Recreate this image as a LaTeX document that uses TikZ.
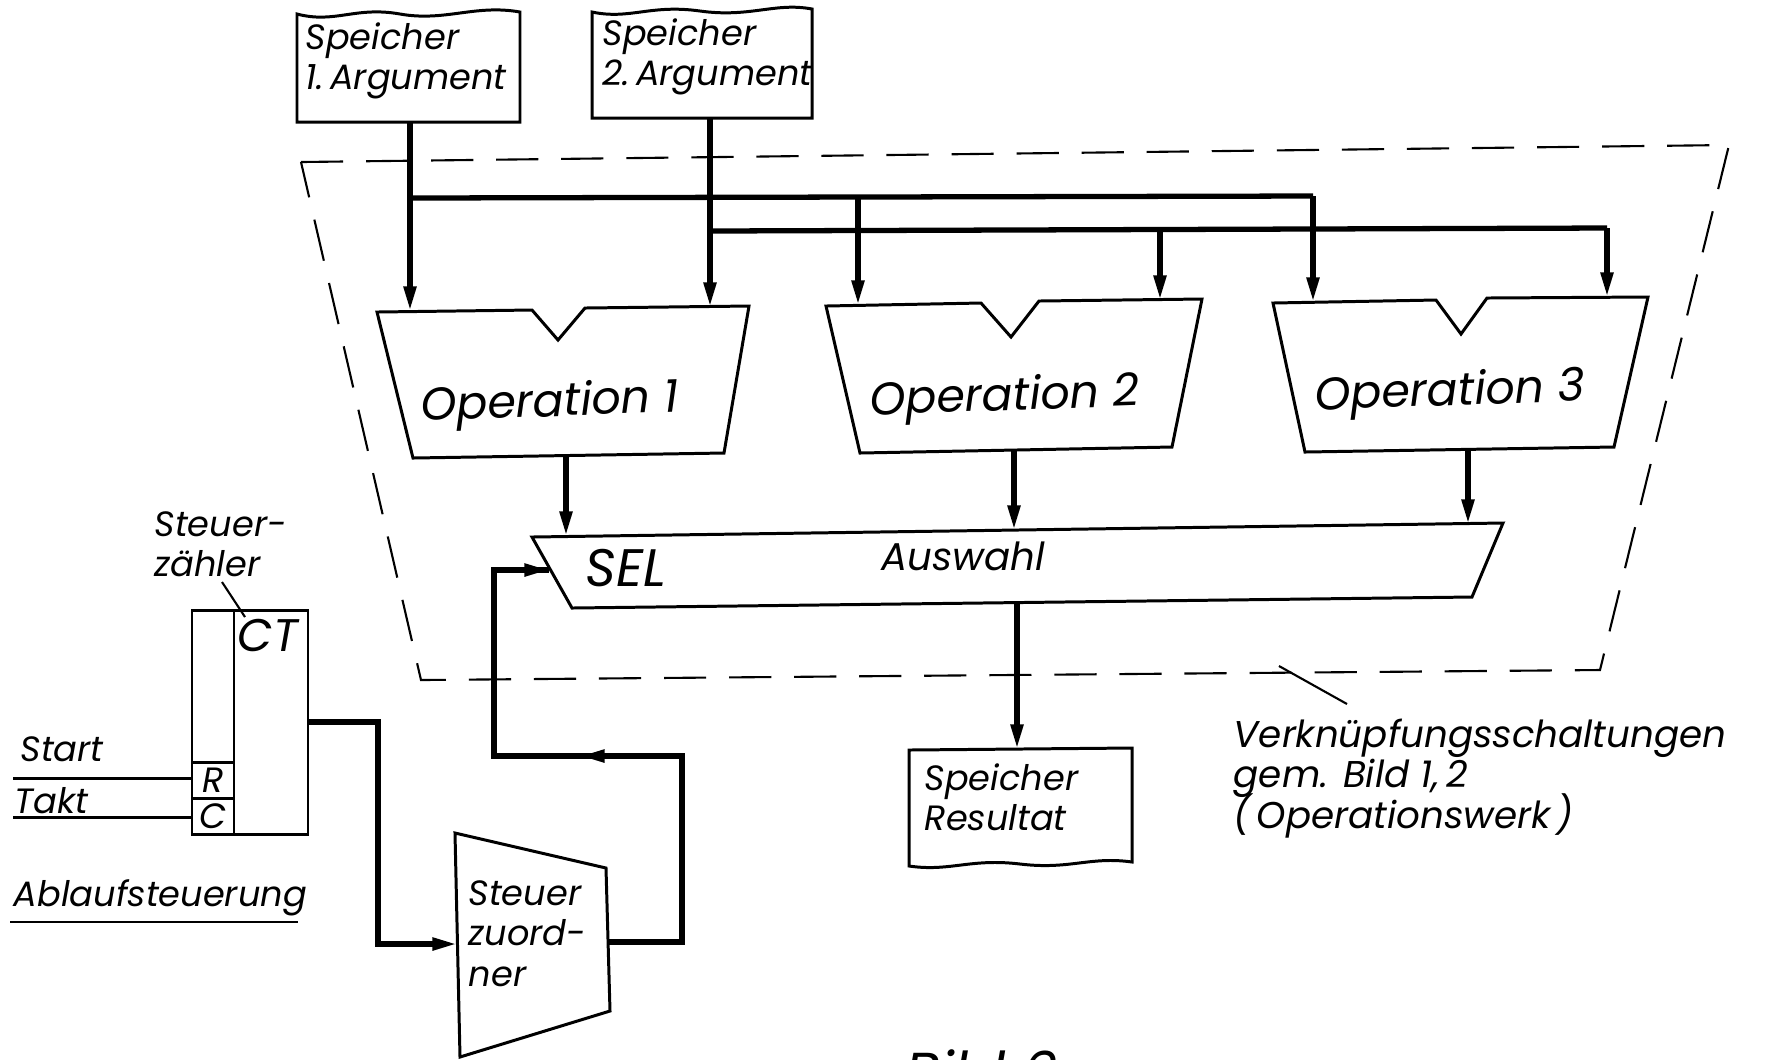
\documentclass[tikz,border=0pt]{standalone}
\usepackage{fontspec}
\setmainfont{Poppins}
\usetikzlibrary{arrows.meta}
% fixed baselines inside multi-line labels
\setlength{\lineskiplimit}{-10pt}
\begin{document}
\begin{tikzpicture}[x=0.01cm,y=-0.01cm,
  box/.style={line width=0.85pt, line join=miter},
  bus/.style={line width=1.5pt},
  tip/.style={-{Triangle[length=7pt,width=3.4pt]}},
  flow/.style={bus, tip},
  frame/.style={line width=0.6pt, dash pattern=on 12pt off 6.5pt},
  thinline/.style={line width=0.6pt},
  lbl/.style={font=\itshape\fontsize{10}{11.5}\selectfont, inner sep=0pt, align=left},
  oplbl/.style={font=\itshape\fontsize{13}{14}\selectfont, inner sep=0pt, rotate=2}]
\useasboundingbox[fill=white] (0,0) rectangle (1775,1059);

% ---- operand memories (torn top edge) ----
\draw[box] (297,122) -- (297,14) .. controls (335,24) and (355,6) .. (400,14)
  .. controls (445,22) and (475,4) .. (520,12) -- (520,122) -- cycle;
\node[lbl, anchor=north west] (s1txt) at (305,22) {Speicher\\1.\,Argument};
\coordinate (s1out) at (410,122);

\draw[box] (592,118) -- (592,12) .. controls (630,20) and (650,4) .. (700,11)
  .. controls (750,18) and (775,2) .. (812,9) -- (812,118) -- cycle;
\node[lbl, anchor=north west] (s2txt) at (602,18) {Speicher\\2.\,Argument};
\coordinate (s2out) at (710,118);

% ---- Operationswerk frame ----
\draw[frame] (301,162) -- (1729,145) -- (1600,670) -- (421,680) -- cycle;

% ---- operation units ----
\draw[box] (377,312) -- (532,310) -- (558,340) -- (585,308) -- (749,306)
  -- (724,453) -- (413,458) -- cycle;
\node[oplbl] (op1) at (550,405) {Operation 1};
\coordinate (op1a) at (410,311);
\coordinate (op1b) at (710,307);
\coordinate (op1out) at (566,456);

\draw[box] (826,306) -- (981,303) -- (1011,337) -- (1039,301) -- (1202,299)
  -- (1172,447) -- (860,453) -- cycle;
\node[oplbl] (op2) at (1005,399) {Operation 2};
\coordinate (op2a) at (858,305);
\coordinate (op2b) at (1160,300);
\coordinate (op2out) at (1014,450);

\draw[box] (1273,303) -- (1436,300) -- (1461,334) -- (1487,298) -- (1648,297)
  -- (1614,447) -- (1305,452) -- cycle;
\node[oplbl] (op3) at (1450,394) {Operation 3};
\coordinate (op3a) at (1313,302);
\coordinate (op3b) at (1607,297);
\coordinate (op3out) at (1468,449);

% ---- selector ----
\draw[box] (532,537) -- (1503,523) -- (1472,597) -- (572,608) -- cycle;
\node[font=\itshape\fontsize{15}{16}\selectfont, inner sep=0pt] (sel) at (626,568) {SEL};
\node[lbl, font=\itshape\fontsize{11}{12}\selectfont] (ausw) at (963,556) {Auswahl};
\coordinate (selin1) at (566,536);
\coordinate (selin2) at (1014,530);
\coordinate (selin3) at (1468,524);
\coordinate (selctl) at (549,570);
\coordinate (selout) at (1017,603);

% ---- result memory (torn bottom edge) ----
\draw[box] (909,866) -- (909,750) -- (1132,748) -- (1132,862)
  .. controls (1090,856) and (1070,870) .. (1020,864)
  .. controls (970,858) and (950,872) .. (909,866) -- cycle;
\node[lbl, anchor=north west] (restxt) at (924,763) {Speicher\\Resultat};
\coordinate (resin) at (1017,749);

% ---- operand buses ----
\coordinate (b1) at (410,198);
\coordinate (b1a) at (858,198);
\coordinate (b1b) at (1313,196);
\coordinate (b2) at (710,231);
\coordinate (b2a) at (1160,230);
\coordinate (b2b) at (1607,228);
\draw[flow] (s1out) -- (op1a);
\draw[flow] (s2out) -- (op1b);
\draw[bus] (b1) -- (b1b);
\draw[bus] (b2) -- (b2b);
\draw[flow] (b1a) -- (op2a);
\draw[flow] (b1b) -- (op3a);
\draw[flow] (b2a) -- (op2b);
\draw[flow] (b2b) -- (op3b);

% ---- results into the selector ----
\draw[flow] (op1out) -- (selin1);
\draw[flow] (op2out) -- (selin2);
\draw[flow] (op3out) -- (selin3);
\draw[flow] (selout) -- (resin);

% ---- label for the frame ----
\coordinate (fr) at (1279,666);
\coordinate (frl) at (1347,704);
\draw[thinline] (fr) -- (frl);
\node[lbl, anchor=north west, font=\itshape\fontsize{10.6}{11.6}\selectfont] (vktxt) at (1233,718)
  {Verknüpfungsschaltungen\\gem. Bild 1,\,2\\(\,Operationswerk\,)};

% ---- control counter ----
\draw[box] (192,610) rectangle (308,834);
\draw[box] (234,610) -- (234,834);
\draw[box] (192,762) -- (234,762);
\draw[box] (192,798) -- (234,798);
\node[lbl] (rlbl) at (213,780) {R};
\node[lbl] (clbl) at (213,816) {C};
\node[lbl, font=\itshape\fontsize{13}{14}\selectfont] (ct) at (268,635) {CT};
\node[lbl, anchor=west] (stz) at (154,544) {Steuer-\\zähler};
\coordinate (stzp) at (222,582);
\coordinate (ctp) at (245,617);
\draw[thinline] (stzp) -- (ctp);

\coordinate (startl) at (13,778);
\coordinate (startr) at (192,778);
\coordinate (taktl) at (13,817);
\coordinate (taktr) at (192,817);
\draw[box] (startl) -- (startr);
\draw[box] (taktl) -- (taktr);
\node[lbl, anchor=west] (start) at (20,749) {Start};
\node[lbl, anchor=west] (takt) at (14,801) {Takt};

\node[lbl, anchor=west] (ablauf) at (13,898) {Ablaufsteuerung};
\coordinate (ul1) at (10,922);
\coordinate (ul2) at (298,922);
\draw[thinline] (ul1) -- (ul2);

% ---- control assignment ----
\draw[box] (455,833) -- (606,868) -- (610,1011) -- (460,1057) -- cycle;
\node[lbl, anchor=north west] (stzo) at (468,880) {Steuer\\zuord-\\ner};
\coordinate (ctout) at (308,722);
\coordinate (zoin) at (457,944);
\coordinate (zoout) at (608,942);

\draw[flow] (ctout) -- (378,722) -- (378,944) -- (zoin);
\draw[bus] (zoout) -- (682,942) -- (682,756) -- (494,756) -- (494,570) -- (selctl);
\draw[flow] (selctl) ++(-25,0) -- (selctl);
\coordinate (midtip) at (580,756);
\draw[flow] (620,756) -- (midtip);

% ---- figure caption (cut at the lower edge) ----
\node[font=\itshape\fontsize{16}{18}\selectfont, anchor=north west, inner sep=0pt] (cap) at (905,1049) {Bild 6};
\end{tikzpicture}
\end{document}
